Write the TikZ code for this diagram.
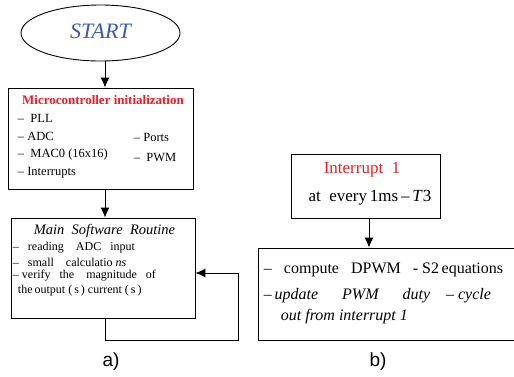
\documentclass[tikz,border=0pt]{standalone}
\usepackage{fontspec}
\setmainfont{Liberation Serif}
\newfontfamily\labelfont{Liberation Sans}
\usetikzlibrary{shapes.geometric,arrows.meta}
\definecolor{startblue}{RGB}{60,90,180}
\definecolor{titlered}{RGB}{235,30,40}
\tikzset{
  box/.style={draw, line width=0.9pt, inner sep=0pt},
  flow/.style={line width=0.9pt, -{Latex[length=10pt,width=9pt]}},
  item/.style={anchor=west, inner sep=0.75pt},
}
\begin{document}
\begin{tikzpicture}[x=1pt,y=1pt,yscale=-1,xscale=1]
\useasboundingbox (0,0) rectangle (514,376);

%Start ellipse
\node [box, ellipse, minimum width=159pt, minimum height=56pt] (start) at (100.5,33) {};
\node (starttxt) at (100.5,31) {\fontsize{22}{24}\selectfont\itshape\color{startblue}START};

%Initialization box
\node [box, minimum width=185pt, minimum height=101pt] (init) at (100.5,138.5) {};
% Text Node
\node (inittitle) at (103,100) {\fontsize{13}{15}\selectfont\bfseries\color{titlered}Microcontroller initialization};
% Text Node
\node [item] (pll) at (17,118) {\fontsize{12.5}{14}\selectfont --\ \ PLL};
\node [item] (adc) at (17,136) {\fontsize{12.5}{14}\selectfont -- ADC};
\node [item] (mac) at (17,154) {\fontsize{12.5}{14}\selectfont --\ \ MAC0 (16x16)};
\node [item] (irq) at (17,173) {\fontsize{12.5}{14}\selectfont -- Interrupts};
\node [item] (ports) at (133,137) {\fontsize{12.5}{14}\selectfont -- Ports};
\node [item] (pwm) at (133,157) {\fontsize{12.5}{14}\selectfont --\ \ PWM};

%Main routine box
\node [box, minimum width=184pt, minimum height=100pt] (main) at (103,268) {};
% Text Node
\node (maintitle) at (104.5,231) {\fontsize{14.5}{16}\selectfont\itshape Main\ \ Software\ \ Routine};
% Text Node
\node [item] (read) at (12,248) {\fontsize{12}{13}\selectfont --\ \ \ reading\ \ \ \ ADC\ \ \ input};
\node [item] (calc) at (12,262) {\fontsize{12}{13}\selectfont --\ \ \ small\ \ \ \ calculatio \textit{ns}};
\node [item] (verify) at (12,276) {\fontsize{12}{13}\selectfont -- verify\ \ \ the\ \ \ \ magnitude\ \ \ of};
\node [item] (output) at (17,291) {\fontsize{12}{13}\selectfont the\,output\ (\,s\,)\ current\ (\,s\,)};

%Interrupt box
\node [box, minimum width=149pt, minimum height=64pt] (int) at (365.5,186) {};
% Text Node
\node (inttitle) at (362,170) {\fontsize{17}{19}\selectfont\color{titlered}Interrupt\ \ 1};
\node (inttime) at (370,198) {\fontsize{17}{19}\selectfont at\ \ every\,1ms\,--\,\textit{T}3};

%Interrupt routine box
\node [box, minimum width=258pt, minimum height=92pt] (isr) at (387,294) {};
% Text Node
\node [item] (dpwm) at (263,270) {\fontsize{16}{18}\selectfont --\ \ \ compute\ \ \ DPWM\ \ \ - S2\,equations};
\node [item] (duty) at (263,296) {\fontsize{16}{18}\selectfont --\,\textit{update\ \ \ \ \ \ PWM\ \ \ \ \ \ duty\ \ \ \ -- cycle}};
\node [item] (outirq) at (280,317) {\fontsize{16}{18}\selectfont\itshape out from interrupt 1};

% Labels
\node (la) at (111,362) {\labelfont\fontsize{19}{21}\selectfont a)};
\node (lb) at (378,362) {\labelfont\fontsize{19}{21}\selectfont b)};

%Connectors
\coordinate (loopbot) at (238,340);
\coordinate (loopin) at (238,273);
\draw [flow] ([xshift=4.5pt]start.south) -- ([xshift=4.5pt]init.north);
\draw [flow] ([xshift=4.5pt]init.south) -- ([xshift=2pt]main.north);
\draw [flow] ([xshift=2pt]main.south) |- (loopbot) -- (loopin) -- (loopin -| main.east);
\draw [flow] ([xshift=3.5pt]int.south) -- ([xshift=3.5pt]int.south |- isr.north);

\end{tikzpicture}
\end{document}
